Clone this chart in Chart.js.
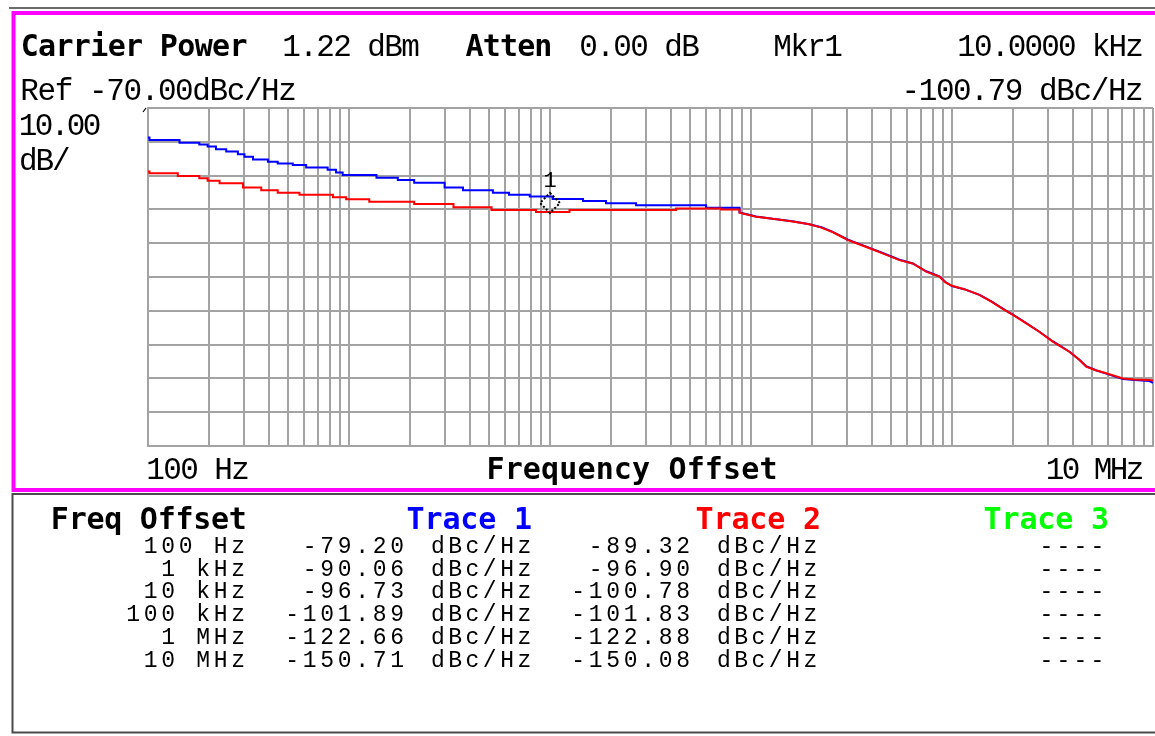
<!DOCTYPE html>
<html>
<head>
<meta charset="utf-8">
<script src="https://cdn.jsdelivr.net/npm/chart.js@4"></script>
<style>
html,body{margin:0;padding:0;background:#fff;}
#wrap{width:1155px;height:736px;position:relative;}
canvas{display:block;}
</style>
</head>
<body>
<div id="wrap"><canvas id="c" width="1155" height="736"></canvas></div>
<script>
// ---------------- data ----------------
// Trace 1 (blue): flat staircase levels given as start/end pairs, then the roll-off
const trace1Freq = [100,101.7, 101.7,143.5, 143.5,180, 180,198, 198,218, 218,245, 245,280, 280,302,
  302,333, 333,395, 395,442, 442,525, 525,612, 612,783, 783,862, 862,930, 930,1370, 1370,1750,
  1750,2110, 2110,2990, 2990,3690, 3690,5200, 5200,6250, 6250,7930, 7930,10300, 10300,14600,
  14600,19000, 19000,26800, 26800,59800, 59800,87700,
  87700, 106000, 128000, 161000, 195000, 224000, 252000, 276000, 302000, 327000, 389000, 452000,
  548000, 638000, 744000, 866000, 928000, 1000000, 1150000, 1370000, 1570000, 1830000, 2010000,
  2340000, 2720000, 3170000, 3840000, 4300000, 4650000, 5200000, 5850000, 7080000, 8100000,
  9600000, 10000000];
const trace1Val = [-78.7,-78.7, -79.5,-79.5, -80.3,-80.3, -80.8,-80.8, -81.4,-81.4, -82.2,-82.2,
  -82.9,-82.9, -83.7,-83.7, -84.4,-84.4, -85.2,-85.2, -85.9,-85.9, -86.4,-86.4, -86.9,-86.9,
  -87.6,-87.6, -88.3,-88.3, -89.1,-89.1, -89.8,-89.8, -90.6,-90.6, -91.3,-91.3, -92.1,-92.1,
  -93.5,-93.5, -94.3,-94.3, -95.1,-95.1, -95.7,-95.7, -96.2,-96.2, -96.9,-96.9, -97.5,-97.5,
  -98.2,-98.2, -98.8,-98.8, -99.5,-99.5,
  -100.9, -102.1, -102.8, -103.5, -104.4, -105.3, -106.5, -107.7, -108.9, -109.7, -111.4, -112.9,
  -114.9, -116.0, -118.3, -119.8, -121.5, -122.7, -123.6, -125.3, -127.2, -129.7, -131.1,
  -133.6, -136.2, -139.0, -142.1, -144.5, -146.4, -147.6, -148.6, -150.2, -150.5,
  -150.8, -151.3];

// Trace 2 (red)
const trace2Freq = [100,101.7, 101.7,140.7, 140.7,180, 180,198, 198,227, 227,297, 297,366, 366,442,
  442,567, 567,832, 832,968, 968,1261, 1261,2110, 2110,3310, 3310,5120, 5120,8520, 8520,12500,
  12500,42400, 42400,71000, 71000,87700,
  87700, 106000, 128000, 161000, 195000, 224000, 252000, 276000, 302000, 327000, 389000, 452000,
  548000, 638000, 744000, 866000, 928000, 1000000, 1150000, 1370000, 1570000, 1830000, 2010000,
  2340000, 2720000, 3170000, 3840000, 4300000, 4650000, 5200000, 5850000, 7080000, 8100000,
  9600000, 10000000];
const trace2Val = [-88.8,-88.8, -89.3,-89.3, -90.1,-90.1, -90.8,-90.8, -91.5,-91.5, -92.3,-92.3,
  -93.5,-93.5, -94.3,-94.3, -95.1,-95.1, -95.7,-95.7, -96.4,-96.4, -97.0,-97.0, -97.7,-97.7,
  -98.4,-98.4, -99.4,-99.4, -100.2,-100.2, -100.8,-100.8, -100.2,-100.2, -99.7,-99.7, -100.0,-100.0,
  -101.0, -102.2, -102.8, -103.6, -104.4, -105.4, -106.6, -107.8, -109.0, -109.8, -111.5, -113.0,
  -115.0, -116.0, -118.4, -119.9, -121.6, -122.6, -123.6, -125.3, -127.3, -129.8, -131.2,
  -133.7, -136.2, -139.1, -142.1, -144.5, -146.5, -147.6, -148.5, -150.0, -150.3,
  -150.5, -150.6];

// Marker 1
const markerFreq = 10000;
const markerVal = -98.1;

// Axis
const xMin = 100, xMax = 10000000;
const yMin = -170, yMax = -70;
const decades = [100, 1000, 10000, 100000, 1000000];
const gridFreqs = [];
decades.forEach(d => { for (let m = 1; m <= 9; m++) gridFreqs.push(d * m); });
gridFreqs.push(xMax);

// Readout texts
const headerCarrier = "1.22 dBm";
const headerAtten = "0.00 dB";
const headerMkrFreq = "10.0000 kHz";
const headerMkrVal = "-100.79 dBc/Hz";
const headerRef = "Ref -70.00dBc/Hz";
const scaleLabel = ["10.00", "dB/"];
const xStartLabel = "100 Hz";
const xEndLabel = "10 MHz";
const xTitle = "Frequency Offset";

// Table
const tableFreq = ["100 Hz", "1 kHz", "10 kHz", "100 kHz", "1 MHz", "10 MHz"];
const tableTrace1 = ["-79.20", "-90.06", "-96.73", "-101.89", "-122.66", "-150.71"];
const tableTrace2 = ["-89.32", "-96.90", "-100.78", "-101.83", "-122.88", "-150.08"];
const tableTrace3 = ["----", "----", "----", "----", "----", "----"];
const tableUnit = "dBc/Hz";

// ---------------- drawing ----------------
const BOLD = 'bold 30px "DejaVu Sans Mono"';
const REG = '31px "Liberation Mono"';
const SMALL = '23px "Liberation Mono"';

function mono(ctx, text, x, y, pitch, align, font, color) {
  ctx.save();
  ctx.font = font; ctx.fillStyle = color; ctx.textAlign = 'left'; ctx.textBaseline = 'alphabetic';
  const n = text.length;
  let start = x;
  if (align === 'right') start = x - n * pitch;
  else if (align === 'center') start = x - n * pitch / 2;
  for (let i = 0; i < n; i++) {
    const ch = text[i];
    const w = ctx.measureText(ch).width;
    ctx.fillText(ch, start + i * pitch + (pitch - w) / 2, y);
  }
  ctx.restore();
}

const overlay = {
  id: 'overlay',
  afterDraw(chart) {
    const ctx = chart.ctx;
    const xs = chart.scales.x, ys = chart.scales.y;
    ctx.save();
    // outer frames
    ctx.strokeStyle = '#3a3a3a'; ctx.lineWidth = 1.5;
    ctx.beginPath(); ctx.moveTo(9, 8); ctx.lineTo(1155, 8); ctx.stroke();
    ctx.strokeStyle = '#ff00ff'; ctx.lineWidth = 4;
    ctx.strokeRect(13.5, 13, 1150, 477);
    ctx.strokeStyle = '#4a4a4a'; ctx.lineWidth = 2;
    ctx.beginPath();
    ctx.moveTo(1156, 494); ctx.lineTo(12.5, 494); ctx.lineTo(12.5, 732.5); ctx.lineTo(1156, 732.5);
    ctx.stroke();
    // small reference-level tick at top-left of the graticule
    ctx.strokeStyle = '#000'; ctx.lineWidth = 1.2;
    ctx.beginPath(); ctx.moveTo(143, 112); ctx.lineTo(146, 108); ctx.stroke();
    ctx.restore();

    // header
    mono(ctx, "Carrier Power", 21, 56, 17.4, 'left', BOLD, '#000');
    mono(ctx, headerCarrier, 283, 56, 17, 'left', REG, '#000');
    mono(ctx, "Atten", 466, 56, 17.2, 'left', BOLD, '#000');
    mono(ctx, headerAtten, 580, 56, 17, 'left', REG, '#000');
    mono(ctx, "Mkr1", 774, 56, 17, 'left', REG, '#000');
    mono(ctx, headerMkrFreq, 1143, 56, 16.8, 'right', REG, '#000');
    mono(ctx, headerRef, 21, 100, 17.2, 'left', REG, '#000');
    mono(ctx, headerMkrVal, 1143, 100, 17.2, 'right', REG, '#000');
    mono(ctx, scaleLabel[0], 20, 135, 16, 'left', REG, '#000');
    mono(ctx, scaleLabel[1], 20, 170, 16.5, 'left', REG, '#000');
    mono(ctx, xStartLabel, 147, 479, 17, 'left', REG, '#000');
    mono(ctx, xTitle, 632, 479, 18.2, 'center', BOLD, '#000');
    mono(ctx, xEndLabel, 1143, 479, 16, 'right', REG, '#000');

    // marker
    const mx = xs.getPixelForValue(markerFreq), my = ys.getPixelForValue(markerVal);
    ctx.save();
    ctx.strokeStyle = '#000'; ctx.lineWidth = 2; ctx.setLineDash([2, 2]);
    ctx.beginPath();
    ctx.moveTo(mx, my - 10); ctx.lineTo(mx + 10, my); ctx.lineTo(mx, my + 10); ctx.lineTo(mx - 10, my); ctx.closePath();
    ctx.stroke();
    ctx.restore();
    mono(ctx, "1", mx, my - 16, 14, 'center', '22px "Liberation Mono"', '#000');

    // table
    mono(ctx, "Freq Offset", 51, 529, 17.8, 'left', BOLD, '#000');
    mono(ctx, "Trace 1", 532, 529, 17.9, 'right', BOLD, '#0000ff');
    mono(ctx, "Trace 2", 821, 529, 17.9, 'right', BOLD, '#ff0000');
    mono(ctx, "Trace 3", 1109, 529, 17.9, 'right', BOLD, '#00ff00');
    for (let i = 0; i < tableFreq.length; i++) {
      const y = 553 + i * 22.7;
      mono(ctx, tableFreq[i], 247, y, 17.5, 'right', SMALL, '#000');
      mono(ctx, tableTrace1[i], 406, y, 17.5, 'right', SMALL, '#000');
      mono(ctx, tableUnit, 533, y, 17.3, 'right', SMALL, '#000');
      mono(ctx, tableTrace2[i], 692, y, 17.5, 'right', SMALL, '#000');
      mono(ctx, tableUnit, 819, y, 17.3, 'right', SMALL, '#000');
      mono(ctx, tableTrace3[i], 1106, y, 17, 'right', SMALL, '#000');
    }
  }
};

const gridStyle = { color: '#a3a3a3', lineWidth: 2, drawTicks: false };
const borderStyle = { display: true, color: '#a3a3a3', width: 2 };

new Chart(document.getElementById('c'), {
  type: 'line',
  data: {
    datasets: [
      {
        label: 'Trace 2',
        data: trace2Freq.map((f, i) => ({ x: f, y: trace2Val[i] })),
        borderColor: '#ff0000', borderWidth: 2, pointRadius: 0, tension: 0, order: 1
      },
      {
        label: 'Trace 1',
        data: trace1Freq.map((f, i) => ({ x: f, y: trace1Val[i] })),
        borderColor: '#0000ff', borderWidth: 2, pointRadius: 0, tension: 0, order: 2
      }
    ]
  },
  options: {
    responsive: false, animation: false, devicePixelRatio: 1,
    layout: { padding: { left: 148, top: 108, right: 2, bottom: 290 } },
    plugins: { legend: { display: false }, tooltip: { enabled: false }, title: { display: false } },
    scales: {
      x: {
        type: 'logarithmic', min: xMin, max: xMax,
        ticks: { display: false, autoSkip: false },
        grid: gridStyle, border: borderStyle,
        afterBuildTicks: s => { s.ticks = gridFreqs.map(v => ({ value: v })); }
      },
      y: {
        type: 'linear', min: yMin, max: yMax,
        ticks: { display: false, stepSize: 10 },
        grid: gridStyle, border: borderStyle
      }
    }
  },
  plugins: [overlay]
});
</script>
</body>
</html>
